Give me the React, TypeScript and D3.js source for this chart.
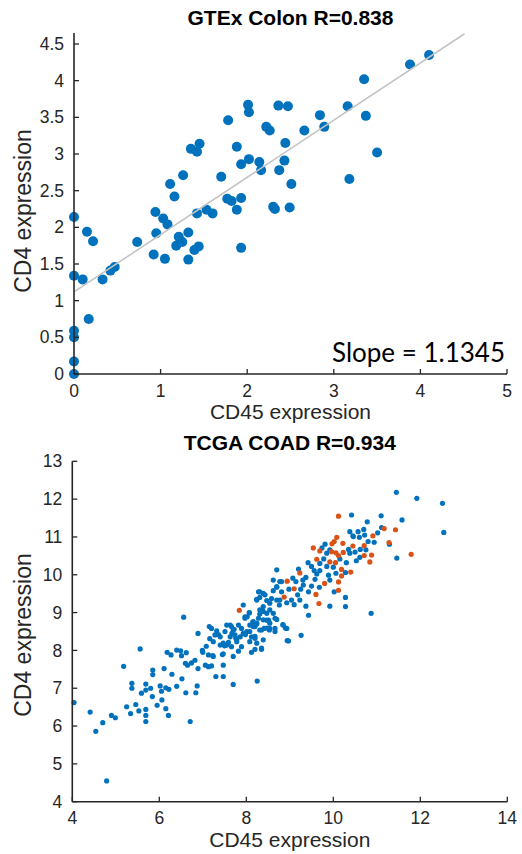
import React from "react";
import * as d3 from "d3";

// ---------- Data: GTEx Colon ----------
const gtexPoints: [number, number][] = [
  [0, 0], [0, 0.17], [0, 0.5], [0, 0.59], [0.17, 0.75], [0, 1.34], [0.1, 1.29], [0, 2.14],
  [0.15, 1.94], [0.22, 1.81], [0.33, 1.29], [0.42, 1.41], [0.47, 1.46], [0.73, 1.8], [0.92, 1.63],
  [1.05, 1.57], [0.95, 1.92], [0.94, 2.21], [1.03, 2.12], [1.08, 2.04], [1.11, 2.59], [1.16, 2.42],
  [1.18, 1.75], [1.21, 1.87], [1.25, 1.8], [1.32, 1.93], [1.32, 1.56], [1.26, 2.71], [1.35, 3.07],
  [1.42, 3.03], [1.45, 3.14], [1.39, 1.69], [1.44, 1.74], [1.42, 2.19], [1.53, 2.24], [1.6, 2.19],
  [1.7, 2.69], [1.78, 3.46], [1.77, 2.39], [1.82, 2.36], [1.88, 2.24], [1.93, 2.4], [1.93, 1.72],
  [1.88, 3.1], [1.93, 2.86], [2.02, 2.93], [2.01, 3.67], [2.02, 3.57], [2.14, 2.89], [2.16, 2.78],
  [2.22, 3.37], [2.26, 3.32], [2.3, 2.28], [2.32, 2.25], [2.36, 3.66], [2.37, 2.78], [2.44, 3.15],
  [2.43, 2.91], [2.47, 3.65], [2.51, 2.59], [2.49, 2.27], [2.66, 3.32], [2.84, 3.53], [2.89, 3.37],
  [3.16, 3.65], [3.37, 3.52], [3.35, 4.02], [3.5, 3.02], [3.18, 2.66], [3.88, 4.22], [4.1, 4.35],
];
const gtexFitLine: [number, number][] = [[0, 1.12], [4.51, 4.64]];
const gtexXTicks = [0, 1, 2, 3, 4, 5];
const gtexYTicks = [0, 0.5, 1, 1.5, 2, 2.5, 3, 3.5, 4, 4.5];
const gtexTitle = "GTEx Colon R=0.838";
const slopeText = "Slope = 1.1345";

// ---------- Data: TCGA COAD ----------
const tcgaBlue: [number, number][] = [
  [4.04, 6.62], [4.41, 6.37], [4.54, 5.86], [4.7, 6.09], [4.79, 4.55], [4.9, 6.28], [4.99, 6.22],
  [5.18, 7.58], [5.25, 6.51], [5.34, 6.33], [5.37, 7.13], [5.37, 7.0], [5.46, 6.57], [5.53, 6.4],
  [5.56, 8.04], [5.59, 6.87], [5.69, 7.11], [5.69, 6.95], [5.69, 6.44], [5.69, 6.28], [5.69, 6.12],
  [5.8, 7.0], [5.84, 6.78], [5.85, 7.48], [5.85, 7.36], [5.95, 6.55], [6.02, 7.06], [6.05, 6.92],
  [6.06, 6.69], [6.11, 7.52], [6.15, 7.01], [6.15, 6.46], [6.18, 7.95], [6.21, 6.28], [6.22, 6.97],
  [6.27, 7.88], [6.29, 7.37], [6.4, 7.05], [6.4, 8.01], [6.49, 7.99], [6.51, 7.86], [6.52, 7.25],
  [6.56, 8.88], [6.6, 7.66], [6.61, 6.88], [6.62, 7.94], [6.65, 7.61], [6.71, 6.12], [6.74, 7.67],
  [6.82, 7.74], [6.84, 6.88], [6.87, 7.06], [6.89, 8.45], [6.89, 7.52], [6.99, 8.0], [7.0, 7.95],
  [7.08, 8.11], [7.06, 7.61], [7.13, 7.57], [7.15, 8.63], [7.16, 8.31], [7.23, 7.86], [7.3, 7.31],
  [7.32, 8.52], [7.36, 8.42], [7.45, 7.89], [7.47, 7.61], [7.47, 7.31], [7.5, 8.12], [7.55, 8.67],
  [7.59, 8.21], [7.7, 7.1], [7.67, 8.45], [7.72, 8.56], [7.76, 8.32], [7.82, 7.98], [7.89, 8.58],
  [7.93, 9.2], [7.98, 8.42], [8.02, 8.89], [8.07, 9.0], [8.12, 7.95], [8.15, 8.75], [8.2, 8.32],
  [8.25, 7.19], [8.24, 8.7], [8.31, 8.96], [8.35, 8.03], [8.41, 8.58], [8.47, 8.8], [8.53, 8.54],
  [8.62, 8.98], [8.66, 8.58], [8.84, 8.68], [8.94, 8.26], [8.76, 9.2],
  [7.2, 8.58], [7.28, 8.41], [7.4, 8.36], [7.51, 8.5], [7.24, 8.23], [7.4, 8.14], [7.47, 8.19],
  [7.55, 8.14], [7.13, 7.88], [7.24, 7.84], [7.47, 7.91], [7.2, 7.59],
  [7.63, 8.67], [7.7, 8.54], [7.63, 8.36], [7.86, 8.36], [8.01, 8.5], [8.12, 8.36], [8.08, 8.23],
  [8.24, 8.19], [8.2, 8.03], [7.78, 8.23], [7.66, 8.1], [7.7, 7.84], [7.97, 8.85], [7.82, 8.67],
  [8.16, 8.76], [8.08, 8.67], [8.2, 8.63], [8.35, 8.54], [8.54, 8.58], [8.85, 8.67], [8.93, 8.58],
  [8.28, 8.85], [8.51, 8.8], [8.7, 8.82], [8.47, 8.98], [8.31, 9.07], [8.39, 9.16], [8.24, 9.35],
  [8.07, 8.99], [8.54, 9.25], [8.7, 9.33], [8.81, 9.55], [8.7, 9.69], [8.77, 9.82], [8.62, 9.86],
  [8.43, 9.47], [8.31, 9.55],
  [10.42, 11.58], [11.1, 11.56], [11.58, 11.45], [10.78, 11.4], [10.7, 11.2], [10.57, 11.14],
  [10.38, 11.14], [10.45, 11.03], [10.6, 10.99], [11.02, 11.11], [10.8, 10.88], [10.94, 10.86],
  [11.29, 10.81], [11.46, 10.44], [9.81, 10.81], [9.74, 10.71], [10.35, 10.67], [10.62, 10.67],
  [10.75, 10.66], [10.53, 10.37], [10.61, 10.46], [10.38, 10.57], [9.85, 10.57], [9.42, 10.32],
  [9.69, 10.3], [9.85, 10.22], [9.56, 10.11], [9.69, 10.11], [8.7, 10.13], [9.37, 9.93],
  [10.28, 10.06], [10.06, 10.04], [9.89, 9.99], [9.92, 9.86], [8.81, 9.82], [9.07, 9.91],
  [9.14, 9.82], [9.31, 9.73], [9.5, 9.7], [9.68, 9.67], [10.02, 9.55], [8.7, 9.67], [8.62, 9.58],
  [8.98, 9.62], [9.25, 9.62], [9.43, 9.55], [9.18, 9.47], [8.77, 9.33], [8.58, 9.37], [8.47, 9.32],
  [8.31, 9.4], [8.24, 9.33], [8.39, 9.51], [8.28, 9.55], [7.97, 8.89], [8.93, 9.26], [9.04, 9.33],
  [9.1, 9.21], [9.23, 9.33], [9.37, 9.17], [9.92, 9.17], [10.28, 9.16], [10.28, 9.4], [9.43, 8.93],
  [10.87, 8.98], [9.26, 8.4], [8.97, 8.25], [8.9, 8.59], [8.54, 9.07], [8.39, 9.03], [8.66, 8.85],
  [8.54, 8.72], [8.39, 8.81], [8.24, 8.72], [8.16, 8.63], [8.31, 8.54], [8.47, 8.59], [8.08, 8.5],
  [7.93, 8.45], [7.66, 8.63], [7.78, 8.28], [8.2, 8.37], [8.39, 8.28], [8.35, 8.06], [8.66, 8.5],
  [7.89, 8.1], [7.74, 8.41],
  [11.45, 12.18], [11.92, 12.02], [12.51, 11.89], [12.54, 11.12], [11.11, 11.25], [10.46, 11.01],
  [9.62, 10.02], [9.78, 10.42], [10.0, 10.2], [9.5, 10.22], [10.3, 10.32], [10.5, 10.6],
  [9.92, 10.66], [9.3, 9.86], [9.58, 9.88], [10.15, 10.42], [9.2, 10.15], [10.72, 11.05],
];
const tcgaOrange: [number, number][] = [
  [7.84, 9.06], [8.94, 9.83], [9.1, 9.63], [8.87, 9.41], [9.23, 10.05], [9.6, 9.48], [9.67, 9.24],
  [9.8, 9.77], [10.12, 9.81], [10.12, 9.59], [10.19, 10.14], [10.4, 10.07], [10.19, 9.97],
  [9.92, 10.34], [10.05, 10.32], [10.12, 10.51], [9.62, 10.41], [9.54, 10.71], [9.69, 10.63],
  [9.96, 10.61], [10.06, 10.58], [10.23, 10.59], [10.45, 10.76], [10.71, 10.77], [10.71, 10.51],
  [10.88, 10.52], [10.84, 10.34], [10.08, 10.99], [10.02, 10.88], [9.97, 10.82], [10.22, 10.83],
  [10.12, 11.55], [11.17, 11.22], [11.43, 11.19], [10.91, 11.03], [11.28, 10.85], [11.79, 10.54],
];
const tcgaXTicks = [4, 6, 8, 10, 12, 14];
const tcgaYTicks = [4, 5, 6, 7, 8, 9, 10, 11, 12, 13];
const tcgaTitle = "TCGA COAD R=0.934";
const xLabelText = "CD45 expression";
const yLabelText = "CD4 expression";

const BLUE = "#0072BD";
const ORANGE = "#D95319";
const AX = "#262626";
const FONT = "'Liberation Sans', Arial, Helvetica, sans-serif";

type PanelProps = {
  x: d3.ScaleLinear<number, number>;
  y: d3.ScaleLinear<number, number>;
  xTicks: number[];
  yTicks: number[];
  title: string;
  titleY: number;
  xLabelY: number;
  yLabelCY: number;
};

function Axes({ x, y, xTicks, yTicks, title, titleY, xLabelY, yLabelCY }: PanelProps) {
  const [x0, x1] = x.range();
  const [y0, y1] = y.range();
  const fmt = d3.format("");
  const tl = 5;
  return (
    <g>
      <line x1={x0} x2={x1} y1={y0} y2={y0} stroke={AX} strokeWidth={1.6} />
      <line x1={x0} x2={x0} y1={y0} y2={y1} stroke={AX} strokeWidth={1.6} />
      {xTicks.map((t) => (
        <g key={"x" + t}>
          <line x1={x(t)} x2={x(t)} y1={y0} y2={y0 - tl} stroke={AX} strokeWidth={1.3} />
          <text x={x(t)} y={y0 + 22.5} textAnchor="middle" fontSize={17.5} fill={AX} fontFamily={FONT}>
            {fmt(t)}
          </text>
        </g>
      ))}
      {yTicks.map((t) => (
        <g key={"y" + t}>
          <line x1={x0} x2={x0 + tl} y1={y(t)} y2={y(t)} stroke={AX} strokeWidth={1.3} />
          <text x={x0 - 10} y={y(t)} dy="0.35em" textAnchor="end" fontSize={17.5} fill={AX} fontFamily={FONT}>
            {fmt(t)}
          </text>
        </g>
      ))}
      <text x={(x0 + x1) / 2} y={titleY} textAnchor="middle" fontSize={21} fontWeight="bold" fill="#000" fontFamily={FONT}>
        {title}
      </text>
      <text x={(x0 + x1) / 2} y={xLabelY} textAnchor="middle" fontSize={21} fill={AX} fontFamily={FONT}>
        {xLabelText}
      </text>
      <text
        transform={`translate(31,${yLabelCY}) rotate(-90)`}
        textAnchor="middle"
        fontSize={23}
        fill={AX}
        fontFamily={FONT}
      >
        {yLabelText}
      </text>
    </g>
  );
}

export default function App() {
  const gx = d3.scaleLinear().domain([0, 5]).range([74, 507]);
  const gy = d3.scaleLinear().domain([0, 4.65]).range([374, 33]);
  const tx = d3.scaleLinear().domain([4, 14]).range([72.3, 507.3]);
  const ty = d3.scaleLinear().domain([4, 13]).range([801.7, 461.3]);
  const fit = d3.line<[number, number]>().x((d) => gx(d[0])).y((d) => gy(d[1]));

  return (
    <svg
      width={522}
      height={854}
      style={{ position: "absolute", left: 0, top: 0, background: "#fff" }}
      xmlns="http://www.w3.org/2000/svg"
    >
      <rect width={522} height={854} fill="#fff" />
      {/* Top panel */}
      {gtexPoints.map((d, i) => (
        <circle key={"g" + i} cx={gx(d[0])} cy={gy(d[1])} r={5} fill={BLUE} />
      ))}
      <path d={fit(gtexFitLine) || ""} stroke="#c4c4c4" strokeWidth={1.6} fill="none" />
      <Axes x={gx} y={gy} xTicks={gtexXTicks} yTicks={gtexYTicks} title={gtexTitle} titleY={25} xLabelY={419} yLabelCY={211} />
      <text x={505} y={361.5} textAnchor="end" fontSize={26} fill="#000" fontFamily="Lato, 'Open Sans', sans-serif">
        {slopeText}
      </text>

      {/* Bottom panel */}
      {tcgaBlue.map((d, i) => (
        <circle key={"b" + i} cx={tx(d[0])} cy={ty(d[1])} r={2.6} fill={BLUE} />
      ))}
      {tcgaOrange.map((d, i) => (
        <circle key={"o" + i} cx={tx(d[0])} cy={ty(d[1])} r={2.6} fill={ORANGE} />
      ))}
      <Axes x={tx} y={ty} xTicks={tcgaXTicks} yTicks={tcgaYTicks} title={tcgaTitle} titleY={450} xLabelY={846.5} yLabelCY={635} />
    </svg>
  );
}
